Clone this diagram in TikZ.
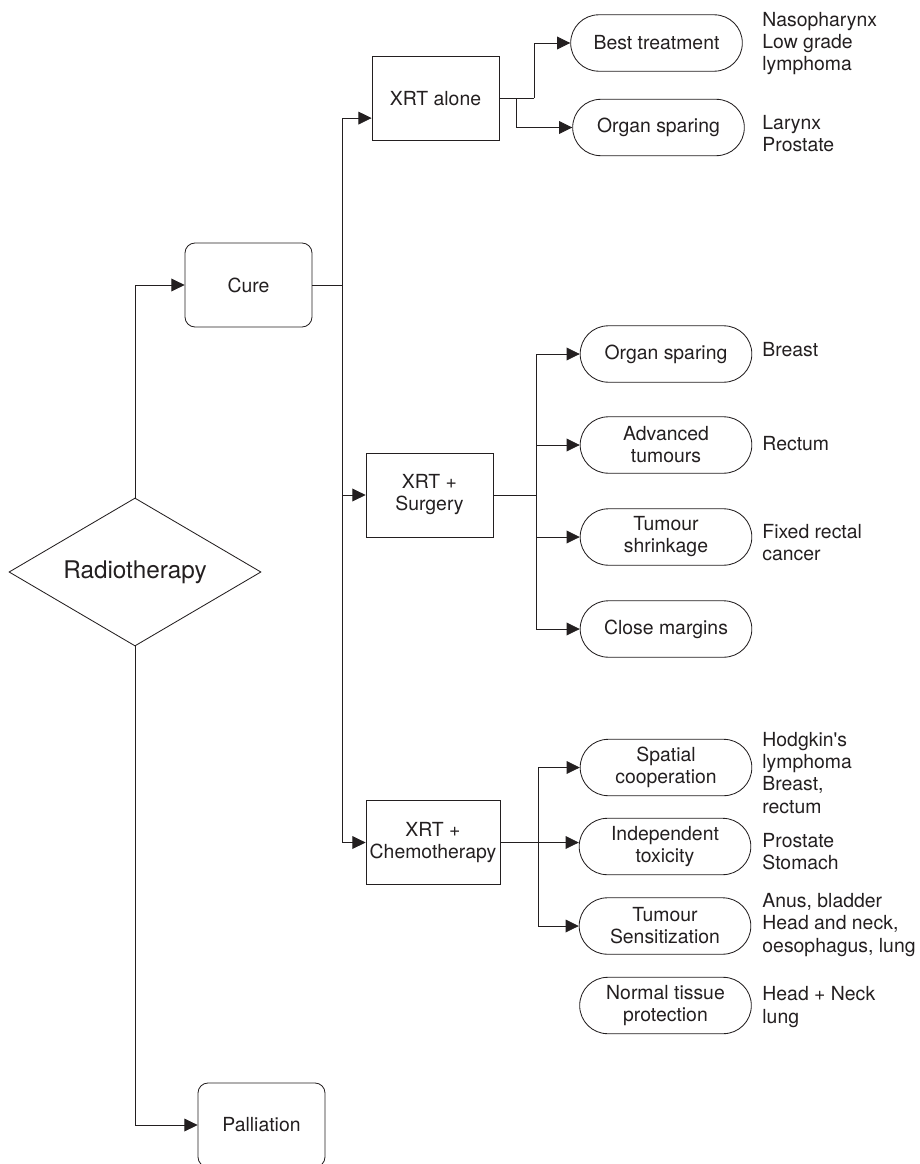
\documentclass[tikz,border=0pt]{standalone}
\usepackage{fontspec}
\setmainfont{TeX Gyre Heros}
\usetikzlibrary{arrows.meta, shapes.geometric}
\definecolor{ink}{HTML}{231F20}

\begin{document}
\begin{tikzpicture}[
  color=ink, line width=0.6pt,
  every node/.style={font=\fontsize{13.8}{15.7}\selectfont},
  box/.style={draw, minimum width=3.175cm, minimum height=2.1cm, align=center, inner sep=0},
  pill/.style={draw, rounded corners=0.7cm, minimum width=4.29cm, minimum height=1.41cm, align=center, inner sep=0},
  note/.style={anchor=west, align=left, inner sep=0},
  arr/.style={-{Triangle[length=3.3mm, width=3.2mm]}}
]
\useasboundingbox (0,0) rectangle (22.975,-29.1);

\node[draw, diamond, aspect=1.7, minimum width=6.3cm, minimum height=3.7cm, inner sep=0,
  font=\fontsize{17.3}{20}\selectfont] (rt) at (3.375,-14.3) {Radiotherapy};
\node[box, rounded corners=0.25cm] (cure) at (6.2125,-7.125) {Cure};
\node[box, rounded corners=0.25cm] (pall) at (6.5375,-28.125) {Palliation};

\node[box] (xa) at (10.8875,-2.4625) {XRT alone};
\node[box] (xs) at (10.7375,-12.375) {XRT +\\Surgery};
\node[box, minimum width=3.35cm] (xc) at (10.825,-21.0625) {XRT +\\Chemotherapy};

\node[pill] (bt) at (16.4125,-1.075) {Best treatment};
\node[pill] (os1) at (16.4625,-3.1875) {Organ sparing};

\node[pill] (os2) at (16.65,-8.85) {Organ sparing};
\node[pill] (adv) at (16.65,-11.125) {Advanced\\tumours};
\node[pill] (shr) at (16.65,-13.425) {Tumour\\shrinkage};
\node[pill] (cm) at (16.65,-15.725) {Close margins};

\node[pill] (sp) at (16.65,-19.1875) {Spatial\\cooperation};
\node[pill] (it) at (16.625,-21.1625) {Independent\\toxicity};
\node[pill] (ts) at (16.625,-23.15) {Tumour\\Sensitization};
\node[pill] (nt) at (16.6375,-25.1375) {Normal tissue\\protection};

\node[note] (n1) at (19.05,-1.0875) {Nasopharynx\\Low grade\\lymphoma};
\node[note] (n2) at (19.05,-3.35) {Larynx\\Prostate};
\node[note] (n3) at (19.05,-8.75) {Breast};
\node[note] (n4) at (19.05,-11.1) {Rectum};
\node[note] (n5) at (19.05,-13.575) {Fixed rectal\\cancer};
\node[note] (n6) at (19.05,-19.325) {Hodgkin\textquotesingle s\\lymphoma\\Breast,\\rectum};
\node[note] (n7) at (19.05,-21.3) {Prostate\\Stomach};
\node[note] (n8) at (19.05,-23.125) {Anus, bladder\\Head and neck,\\oesophagus, lung};
\node[note] (n9) at (19.05,-25.175) {Head + Neck\\lung};

\draw[arr] (rt.north) |- (cure.west);
\draw[arr] (rt.south) |- (pall.west);

\coordinate (tr) at (8.55,-7.125);
\draw (cure.east) -- (tr);
\draw[arr] (tr) |- ([yshift=-0.49cm]xa.west);
\draw[arr] (tr) |- (xs.west);
\draw[arr] (tr) |- (xc.west);

\draw (xa.east) -- ++(0.875,0) coordinate (ja);
\path (xa.east) ++(0.425,0) coordinate (jb);
\draw[arr] (ja) |- (bt.west);
\draw[arr] (jb) |- (os1.west);

\draw (xs.east) -- ++(1.075,0) coordinate (js);
\foreach \p in {os2, adv, shr, cm}
  \draw[arr] (js) |- (\p.west);

\draw[arr] (xc.east) -- (xc.east -| it.west);
\path (xc.east) ++(0.95,0) coordinate (jc);
\foreach \p in {sp, ts}
  \draw[arr] (jc) |- (\p.west);
\end{tikzpicture}
\end{document}
